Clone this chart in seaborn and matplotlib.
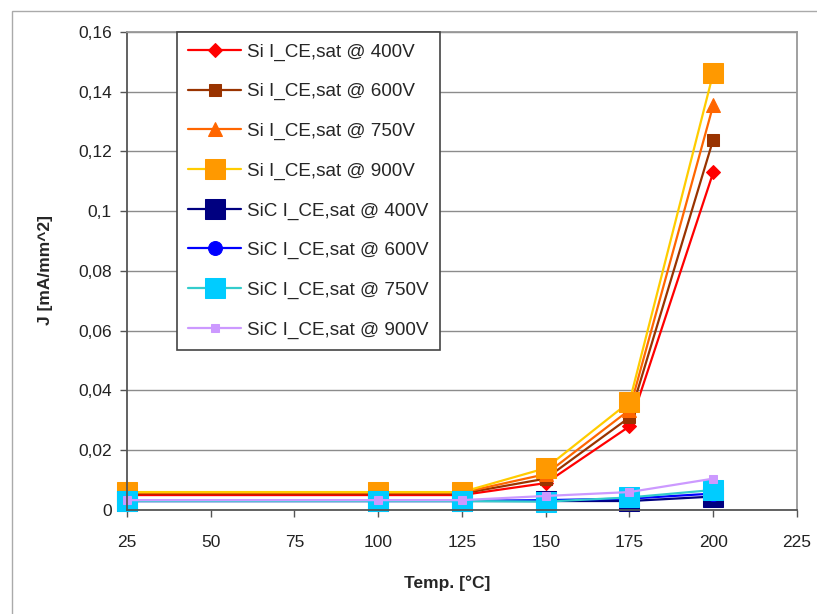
import matplotlib
matplotlib.use("Agg")
import matplotlib.pyplot as plt
import seaborn as sns
import pandas as pd
from matplotlib.ticker import FuncFormatter, MultipleLocator
from matplotlib.patches import Rectangle

sns.set_style("white")
plt.rcParams["font.family"] = ["Liberation Sans", "DejaVu Sans"]

temps = [25, 100, 125, 150, 175, 200]
si_400 = [0.0050, 0.0050, 0.0050, 0.0090, 0.0280, 0.1130]
si_600 = [0.0055, 0.0055, 0.0055, 0.0105, 0.0310, 0.1240]
si_750 = [0.0058, 0.0058, 0.0058, 0.0120, 0.0335, 0.1355]
si_900 = [0.0060, 0.0060, 0.0060, 0.0140, 0.0362, 0.1462]
sic_400 = [0.0030, 0.0030, 0.0030, 0.0030, 0.0030, 0.0045]
sic_600 = [0.0030, 0.0030, 0.0030, 0.0033, 0.0038, 0.0055]
sic_750 = [0.0030, 0.0030, 0.0030, 0.0028, 0.0042, 0.0067]
sic_900 = [0.0033, 0.0033, 0.0033, 0.0047, 0.0060, 0.0105]

labels = ["Si I_CE,sat @ 400V", "Si I_CE,sat @ 600V", "Si I_CE,sat @ 750V",
          "Si I_CE,sat @ 900V", "SiC I_CE,sat @ 400V", "SiC I_CE,sat @ 600V",
          "SiC I_CE,sat @ 750V", "SiC I_CE,sat @ 900V"]
series = [si_400, si_600, si_750, si_900, sic_400, sic_600, sic_750, sic_900]

# (line color, marker, marker color, marker size)
styles = [
    ("#FF0000", "D", "#FF0000", 7.5),
    ("#993300", "s", "#993300", 9),
    ("#FF6600", "^", "#FF6600", 10),
    ("#FFCC00", "s", "#FF9900", 14),
    ("#000080", "s", "#000080", 14),
    ("#0000FF", "o", "#0000FF", 10),
    ("#33CCCC", "s", "#00CCFF", 14),
    ("#CC99FF", "s", "#CC99FF", 5.5),
]

fig = plt.figure(figsize=(8.17, 6.14), dpi=100)
ax = fig.add_axes([0.1554, 0.1694, 0.8201, 0.7785])

for lab, vals, (lc, mk, mc, ms) in zip(labels, series, styles):
    df = pd.DataFrame({"T": temps, "J": vals})
    sns.lineplot(data=df, x="T", y="J", ax=ax, color=lc, marker=mk,
                 markerfacecolor=mc, markeredgecolor=mc, markersize=ms,
                 linewidth=1.6, label=lab, clip_on=False)

ax.set_xlim(25, 225)
ax.set_ylim(0, 0.16)
ax.xaxis.set_major_locator(MultipleLocator(25))
ax.yaxis.set_major_locator(MultipleLocator(0.02))
ax.yaxis.set_major_formatter(FuncFormatter(lambda v, p: ("%g" % round(v, 4)).replace(".", ",")))
ax.grid(axis="y", color="#8c8c8c", linewidth=1.0)
ax.set_axisbelow(True)

for s in ["left", "bottom"]:
    ax.spines[s].set_color("#555555")
    ax.spines[s].set_linewidth(1.3)
for s in ["top", "right"]:
    ax.spines[s].set_color("#999999")
    ax.spines[s].set_linewidth(1.3)

ax.tick_params(axis="both", direction="out", length=5, width=1, color="#555555",
               labelsize=12.5, labelcolor="#222222", bottom=True, left=True)
ax.tick_params(axis="x", pad=13)
ax.tick_params(axis="y", pad=6)

ax.set_xlabel("Temp. [°C]", fontsize=12.5, fontweight="bold")
ax.set_ylabel("J [mA/mm^2]", fontsize=12.5, fontweight="bold")
# label centres: x-label at pixel (447, 583), y-label at pixel (46, 270)
ax.xaxis.set_label_coords((447 - 127) / 670, -(583 - 510) / 478)
ax.xaxis.label.set_va("center")
ax.yaxis.set_label_coords(-(127 - 46) / 670, (510 - 270) / 478)
ax.yaxis.label.set_va("center")

leg = ax.legend(loc="upper left", bbox_to_anchor=(0.0746, 1.0), borderaxespad=0,
                fontsize=13.6, handlelength=2.8, labelspacing=1.18, numpoints=1,
                frameon=True, fancybox=False, framealpha=1, borderpad=0.6,
                handletextpad=0.3)
leg.get_frame().set_edgecolor("#444444")
leg.get_frame().set_linewidth(1.2)

# outer chart-area border (left and top visible)
fig.patches.append(Rectangle((12 / 817, -0.1), 1.2, 1 - 11 / 614 + 0.1,
                             transform=fig.transFigure, fill=False,
                             edgecolor="#aaaaaa", linewidth=1.0))

fig.savefig("out.png", dpi=100)
